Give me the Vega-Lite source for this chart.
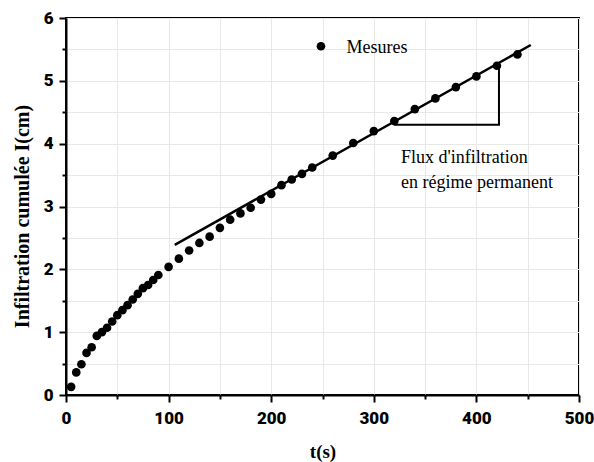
{
  "$schema": "https://vega.github.io/schema/vega-lite/v6.json",
  "width": 513,
  "height": 377,
  "autosize": "none",
  "padding": {"left": 66, "top": 18, "right": 15, "bottom": 67},
  "background": "white",
  "config": {
    "view": {"stroke": "black", "strokeWidth": 2}
  },
  "datasets": {
    "mesures": [
      {"t": 5, "I": 0.13}, {"t": 10, "I": 0.36}, {"t": 15, "I": 0.49}, {"t": 20, "I": 0.67},
      {"t": 25, "I": 0.76}, {"t": 30, "I": 0.94}, {"t": 35, "I": 1.0}, {"t": 40, "I": 1.07},
      {"t": 45, "I": 1.17}, {"t": 50, "I": 1.27}, {"t": 55, "I": 1.35}, {"t": 60, "I": 1.43},
      {"t": 65, "I": 1.52}, {"t": 70, "I": 1.61}, {"t": 75, "I": 1.7}, {"t": 80, "I": 1.75},
      {"t": 85, "I": 1.83}, {"t": 90, "I": 1.91}, {"t": 100, "I": 2.04}, {"t": 110, "I": 2.17},
      {"t": 120, "I": 2.3}, {"t": 130, "I": 2.42}, {"t": 140, "I": 2.52}, {"t": 150, "I": 2.66},
      {"t": 160, "I": 2.79}, {"t": 170, "I": 2.89}, {"t": 180, "I": 2.98}, {"t": 190, "I": 3.11},
      {"t": 200, "I": 3.2}, {"t": 210, "I": 3.34}, {"t": 220, "I": 3.43}, {"t": 230, "I": 3.52},
      {"t": 240, "I": 3.62}, {"t": 260, "I": 3.81}, {"t": 280, "I": 4.01}, {"t": 300, "I": 4.2},
      {"t": 320, "I": 4.36}, {"t": 340, "I": 4.55}, {"t": 360, "I": 4.72}, {"t": 380, "I": 4.9},
      {"t": 400, "I": 5.07}, {"t": 420, "I": 5.24}, {"t": 440, "I": 5.42}
    ],
    "fit": [{"t": 106, "I": 2.39}, {"t": 453, "I": 5.57}],
    "triangle": [{"t": 320, "I": 4.3, "o": 1}, {"t": 422, "I": 4.3, "o": 2}, {"t": 422, "I": 5.24, "o": 3}],
    "legendpt": [{"t": 248.5, "I": 5.55}],
    "labels": [
      {"t": 273.5, "I": 5.45, "label": "Mesures"},
      {"t": 326.5, "I": 3.69, "label": "Flux d'infiltration"},
      {"t": 326.5, "I": 3.29, "label": "en régime permanent"}
    ]
  },
  "encoding": {
    "x": {
      "field": "t", "type": "quantitative",
      "scale": {"domain": [0, 500], "nice": false, "zero": false},
      "axis": {
        "values": [0, 50, 100, 150, 200, 250, 300, 350, 400, 450, 500],
        "labelExpr": "datum.value % 100 === 0 ? format(datum.value, 'd') : ''",
        "tickSize": {"condition": {"test": "datum.value % 100 === 0", "value": 7}, "value": 4},
        "tickColor": "black", "tickWidth": 2,
        "domainColor": "black", "domainWidth": 2,
        "grid": true, "gridColor": "#e8e8e8", "gridWidth": 1,
        "labelFont": "Roboto", "labelFontWeight": 900, "labelFontSize": 17, "labelColor": "black",
        "labelPadding": 8, "labelFlush": false,
        "title": "t(s)", "titleFont": "Liberation Serif", "titleFontSize": 19,
        "titleFontWeight": "bold", "titleColor": "black",
        "titleY": 56, "titleBaseline": "middle"
      }
    },
    "y": {
      "field": "I", "type": "quantitative",
      "scale": {"domain": [0, 6], "nice": false},
      "axis": {
        "values": [0, 0.5, 1, 1.5, 2, 2.5, 3, 3.5, 4, 4.5, 5, 5.5, 6],
        "labelExpr": "datum.value % 1 === 0 ? format(datum.value, 'd') : ''",
        "tickSize": {"condition": {"test": "datum.value % 1 === 0", "value": 7}, "value": 4},
        "tickColor": "black", "tickWidth": 2,
        "domainColor": "black", "domainWidth": 2,
        "grid": true, "gridColor": "#e8e8e8", "gridWidth": 1,
        "labelFont": "Roboto", "labelFontWeight": 900, "labelFontSize": 17, "labelColor": "black",
        "labelPadding": 6, "labelFlush": false,
        "title": "Infiltration cumulée I(cm)", "titleFont": "Liberation Serif", "titleFontSize": 20,
        "titleFontWeight": "bold", "titleColor": "black",
        "titleX": -44, "titleY": 198, "titleBaseline": "middle", "titleAlign": "center", "titleAngle": -90
      }
    }
  },
  "layer": [
    {
      "data": {"name": "fit"},
      "mark": {"type": "line", "color": "black", "strokeWidth": 2.5}
    },
    {
      "data": {"name": "triangle"},
      "mark": {"type": "line", "color": "black", "strokeWidth": 2},
      "encoding": {"order": {"field": "o", "type": "quantitative"}}
    },
    {
      "data": {"name": "mesures"},
      "mark": {"type": "circle", "color": "black", "size": 75, "opacity": 1}
    },
    {
      "data": {"name": "legendpt"},
      "mark": {"type": "circle", "color": "black", "size": 75, "opacity": 1}
    },
    {
      "data": {"name": "labels"},
      "mark": {"type": "text", "align": "left", "baseline": "alphabetic", "font": "Liberation Serif", "fontSize": 18, "color": "black"},
      "encoding": {"text": {"field": "label", "type": "nominal"}}
    }
  ]
}
